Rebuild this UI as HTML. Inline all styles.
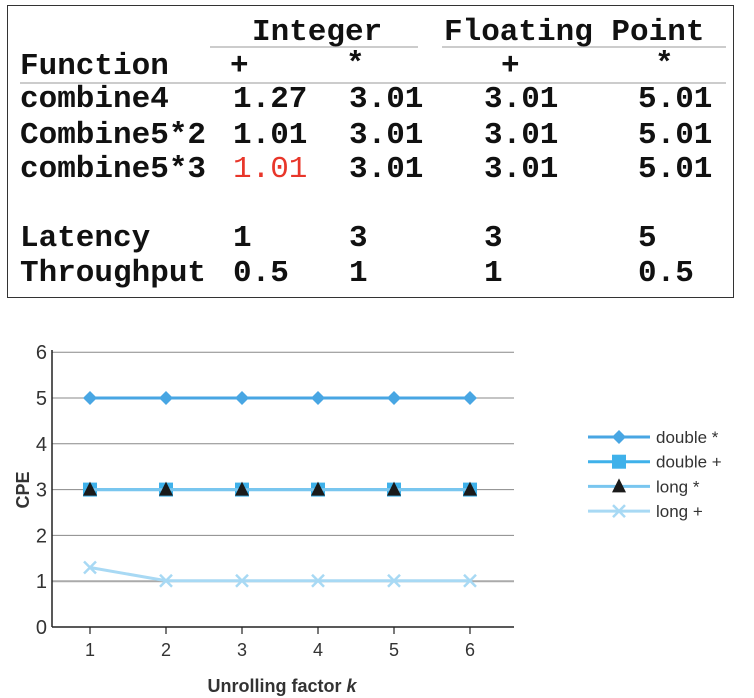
<!DOCTYPE html>
<html><head><meta charset="utf-8"><style>
body{margin:0;background:#fff;width:754px;height:698px;overflow:hidden;position:relative;font-family:"Liberation Mono",monospace}
#tbl{position:absolute;left:7px;top:5px;width:727px;height:293px;border:1.5px solid #333;box-sizing:border-box}
.t{position:absolute;font:bold 31px "Liberation Mono",monospace;color:#111;white-space:pre;line-height:1;transform:translateY(-45%)}
.ul{position:absolute;height:2px;background:#ccc}
</style></head><body>
<div id="tbl"></div>
<div class="ul" style="left:210px;top:46px;width:208px"></div>
<div class="ul" style="left:442px;top:46px;width:284px"></div>
<div class="ul" style="left:20px;top:82px;width:706px"></div>
<div class="t" style="left:252px;top:31px">Integer</div>
<div class="t" style="left:444px;top:31px">Floating Point</div>
<div class="t" style="left:20px;top:65px">Function</div>
<div class="t" style="left:230px;top:65px">+</div>
<div class="t" style="left:346px;top:63px">*</div>
<div class="t" style="left:501px;top:65px">+</div>
<div class="t" style="left:655px;top:63px">*</div>
<div id="rows"></div>
<svg id="chart" width="754" height="698" style="position:absolute;left:0;top:0"></svg>
<script>
const rowLabels=["combine4","Combine5*2","combine5*3","Latency","Throughput"];
const rowVals=[["1.27","3.01","3.01","5.01"],["1.01","3.01","3.01","5.01"],["1.01","3.01","3.01","5.01"],["1","3","3","5"],["0.5","1","1","0.5"]];
const rowY=[98,134,168,237,272];
const colX=[233,349,484,638];
const rows=document.getElementById('rows');
rowLabels.forEach((l,i)=>{
  const d=document.createElement('div');d.className='t';d.style.left='20px';d.style.top=rowY[i]+'px';d.textContent=l;
  
  
  rows.appendChild(d);
  rowVals[i].forEach((v,j)=>{
    const e=document.createElement('div');e.className='t';e.style.left=colX[j]+'px';e.style.top=rowY[i]+'px';e.textContent=v;
    if(i==2&&j==0){e.style.color='#e8362a';e.style.fontWeight='normal';}
    
    
    rows.appendChild(e);
  });
});

const categories=[1,2,3,4,5,6];
const doubleMul=[5,5,5,5,5,5];
const doubleAdd=[3,3,3,3,3,3];
const longMul=[3,3,3,3,3,3];
const longAdd=[1.3,1.01,1.01,1.01,1.01,1.01];
const yTicks=[0,1,2,3,4,5,6];

const NS='http://www.w3.org/2000/svg';
const svg=document.getElementById('chart');
const X=k=>90+(k-1)*76;
const Y=v=>627-v*45.8;
function el(t,a,name){const e=document.createElementNS(NS,t);for(const k in a)e.setAttribute(k,a[k]);
  
  
  svg.appendChild(e);return e;}
yTicks.forEach(v=>{
  if(v>0)el('line',{x1:52,x2:514,y1:Y(v),y2:Y(v),stroke:v==1?'#aaa':'#888','stroke-width':v==1?2:1},'gridline');
  const t=el('text',{x:47,y:Y(v)+7,'text-anchor':'end','font-family':'Liberation Sans, sans-serif','font-size':20,fill:'#333'},'y-tick-label');t.textContent=v;
});
el('line',{x1:52,x2:52,y1:350,y2:627,stroke:'#222','stroke-width':1.5},'y-axis');
el('line',{x1:52,x2:514,y1:627,y2:627,stroke:'#222','stroke-width':1.5},'x-axis');
categories.forEach(k=>{
  el('line',{x1:X(k),x2:X(k),y1:627,y2:634,stroke:'#222','stroke-width':1.2},'x-tick');
  const t=el('text',{x:X(k),y:656,'text-anchor':'middle','font-family':'Liberation Sans, sans-serif','font-size':18,fill:'#333'},'x-tick-label');t.textContent=k;
});
const xt=el('text',{x:282,y:692,'text-anchor':'middle','font-family':'Liberation Sans, sans-serif','font-size':18,'font-weight':'bold',fill:'#333'},'x-axis-title');
xt.innerHTML='Unrolling factor <tspan font-style="italic">k</tspan>';
const yt=el('text',{x:0,y:0,transform:'translate(29,490) rotate(-90)','text-anchor':'middle','font-family':'Liberation Sans, sans-serif','font-size':18,'font-weight':'bold',fill:'#333'},'y-axis-title');yt.textContent='CPE';

function marker(type,cx,cy,col){
  if(type=='diamond')el('polygon',{points:`${cx},${cy-7} ${cx+7},${cy} ${cx},${cy+7} ${cx-7},${cy}`,fill:col},'diamond-marker');
  else if(type=='square')el('rect',{x:cx-7,y:cy-7,width:14,height:14,fill:col},'square-marker');
  else if(type=='tri')el('polygon',{points:`${cx},${cy-8} ${cx+7},${cy+6} ${cx-7},${cy+6}`,fill:'#1a1a1a'},'triangle-marker');
  else{el('path',{d:`M${cx-6} ${cy-6}L${cx+6} ${cy+6}M${cx+6} ${cy-6}L${cx-6} ${cy+6}`,stroke:col,'stroke-width':2.5},'x-marker');}
}
const series=[[doubleMul,'#48a6e3','diamond','double *'],[doubleAdd,'#3fb1ea','square','double +'],[longMul,'#79c6ef','tri','long *'],[longAdd,'#a8d9f4','x','long +']];
series.forEach(([vals,col,m,name],si)=>{
  el('polyline',{points:categories.map((k,i)=>X(k)+','+Y(vals[i])).join(' '),fill:'none',stroke:col,'stroke-width':3},'series-line');
  categories.forEach((k,i)=>marker(m,X(k),Y(vals[i]),col));
  const ly=437+si*24.7;
  el('line',{x1:588,x2:650,y1:ly,y2:ly,stroke:col,'stroke-width':3},'legend-line');
  marker(m,619,ly,col);
  const t=el('text',{x:656,y:ly+6,'font-family':'Liberation Sans, sans-serif','font-size':17,fill:'#333'},'legend-label');t.textContent=name;
});
</script>
</body></html>
